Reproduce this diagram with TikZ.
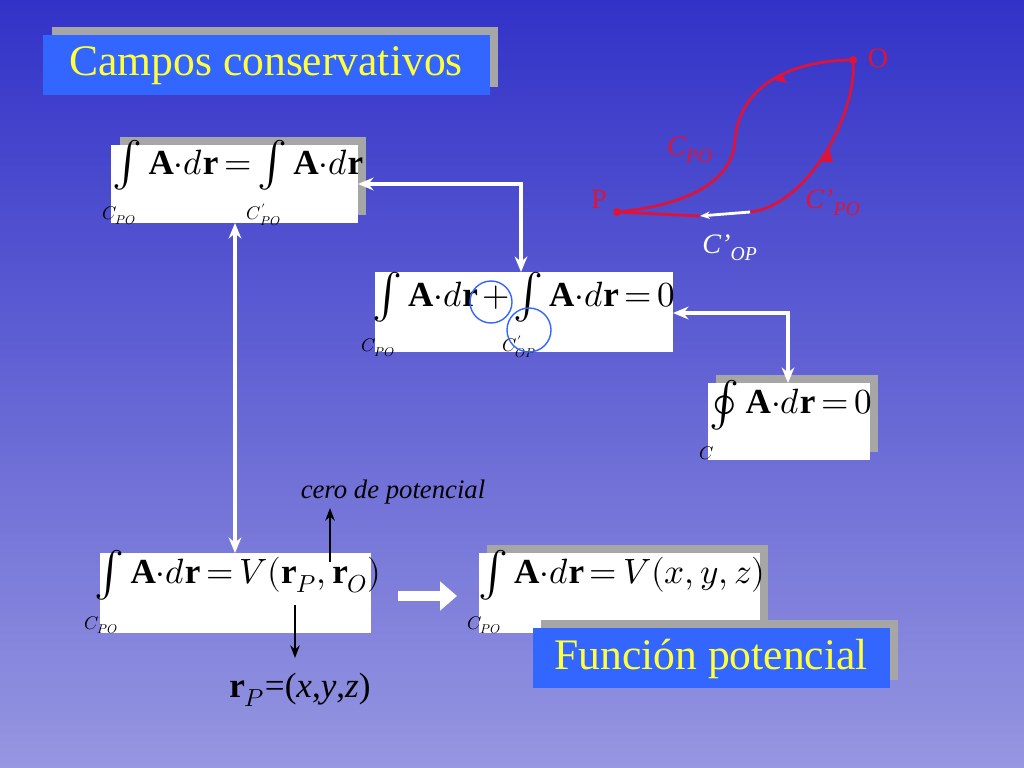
\documentclass[tikz,border=0pt]{standalone}
\usepackage{mathtools}
\usepackage{fontspec}
\usepackage{unicode-math}
\setmainfont{Liberation Serif}
\setmathfont{Latin Modern Math}
\usetikzlibrary{arrows.meta}
\definecolor{titleblue}{RGB}{51,102,255}
\definecolor{titleyellow}{RGB}{255,255,60}
\definecolor{curvered}{RGB}{220,20,60}
\tikzset{
  shadowbox/.style={fill=gray!70, draw=none},
  formbox/.style={fill=white, draw=none},
  titlebox/.style={fill=titleblue, draw=none},
  link/.style={white, line width=2.4pt, {Stealth[length=11pt,width=9pt]}-{Stealth[length=11pt,width=9pt]}},
  pointer/.style={black, line width=1.2pt, -{Stealth[length=9pt]}},
  path/.style={curvered, line width=2pt},
}
\thickmuskip=3mu plus 1mu
\medmuskip=2mu
\newcommand{\Adr}{\mathbf{A}{\cdot}d\mathbf{r}}
\newcommand{\Sign}[2]{\mathop{\rlap{\raisebox{-1.3em}{\kern-0.3em\fontsize{13}{13}\selectfont$#2$}}\vcenter{\hbox{\fontsize{32}{32}\selectfont$#1$}}}}
\newcommand{\Int}[1]{\Sign{\int}{#1}}
\begin{document}
\begin{tikzpicture}[x=0.025cm, y=-0.025cm, font=\fontsize{25}{30}\selectfont]
\shade[top color={rgb,255:red,50;green,50;blue,200}, bottom color={rgb,255:red,150;green,150;blue,225}] (0,0) rectangle (1024,768);
\useasboundingbox (0,0) rectangle (1024,768);
% title
\fill[shadowbox] (52,27) rectangle (498,87);
\fill[titlebox] (43,35) rectangle (490,95);
\node[titleyellow, font=\fontsize{31}{34}\selectfont] (title) at (266,66) {Campos conservativos};
% box 1
\fill[shadowbox] (120,137) rectangle (366,215);
\fill[formbox] (111,145) rectangle (358,223);
\node (eqone) at (238,183) {$\Int{C_{PO}}\Adr=\Int{C'_{PO}}\Adr$};
% box 2
\fill[formbox] (375,272) rectangle (673,352);
\node (eqtwo) at (524,315) {$\Int{C_{PO}}\Adr+\Int{C'_{OP}}\Adr=0$};
\draw[titleblue, line width=1pt] (491,302) circle (21);
\draw[titleblue, line width=1pt] (529,330) circle (22);
% box 3
\fill[shadowbox] (716,375) rectangle (878,452);
\fill[formbox] (708,383) rectangle (870,460);
\node (eqthree) at (791,420) {$\Sign{\oint}{C}\Adr=0$};
% box 4
\fill[formbox] (100,553) rectangle (371,633);
\node (eqfour) at (238,592) {$\Int{C_{PO}}\Adr=V(\mathbf{r}_P,\mathbf{r}_O)$};
% box 5
\fill[shadowbox] (487,545) rectangle (768,625);
\fill[formbox] (479,553) rectangle (760,633);
\node (eqfive) at (622,592) {$\Int{C_{PO}}\Adr=V(x,y,z)$};
% potential function title
\fill[shadowbox] (541,620) rectangle (898,680);
\fill[titlebox] (533,628) rectangle (890,688);
\node[titleyellow, font=\fontsize{31}{34}\selectfont] (potential) at (711,659) {Función potencial};
% links
\coordinate (k1) at (521,184);
\coordinate (k2) at (788,313);
\draw[link] (358,184) -- (k1) -- (521,272);
\draw[link] (673,313) -- (k2) -- (788,383);
\draw[link] (235,223) -- (235,553);
\coordinate (fs) at (398,596);
\coordinate (fe) at (457,596);
\draw[white, line width=7pt, -{Triangle[length=12pt,width=20pt]}] (fs) -- (fe);
% pointers
\node[font=\itshape\fontsize{19}{21}\selectfont] (zero) at (393,492) {cero de potencial};
\coordinate (zs) at (330,562);
\draw[pointer] (zs) -- (330,508);
\coordinate (rs) at (295,605);
\draw[pointer] (rs) -- (295,658);
\node[font=\fontsize{25}{28}\selectfont] (rp) at (300,690) {$\mathbf{r}_P$=(\textit{x},\textit{y},\textit{z})};
% path sketch
\coordinate (P) at (617,212);
\coordinate (O) at (853,60);
\coordinate (Q) at (750,212);
\coordinate (W) at (700,216);
\draw[path] (P) .. controls (690,205) and (733,180) .. (735,140) .. controls (740,80) and (800,60) .. (O);
\draw[path] (O) .. controls (858,110) and (810,205) .. (Q);
\draw[path] (W) -- (P);
\draw[white, line width=2pt, -{Stealth[length=7pt]}] (Q) -- (W);
\fill[curvered] (782,74) -- (773,80) -- (787,83) -- cycle;
\fill[curvered] (829,148) -- (821,162) -- (833,162) -- cycle;
\fill[curvered] (P) circle (4);
\fill[curvered] (O) circle (4);
\node[curvered, font=\fontsize{20}{22}\selectfont] (plabel) at (599,199) {P};
\node[curvered, font=\fontsize{20}{22}\selectfont] (olabel) at (878,58) {O};
\node[curvered, font=\itshape\fontsize{20}{22}\selectfont] (cpo) at (690,150) {C\textsubscript{PO}};
\node[curvered, font=\itshape\fontsize{20}{22}\selectfont] (cpop) at (833,203) {C’\textsubscript{PO}};
\node[white, font=\itshape\fontsize{20}{22}\selectfont] (cop) at (730,248) {C’\textsubscript{OP}};
\end{tikzpicture}
\end{document}
